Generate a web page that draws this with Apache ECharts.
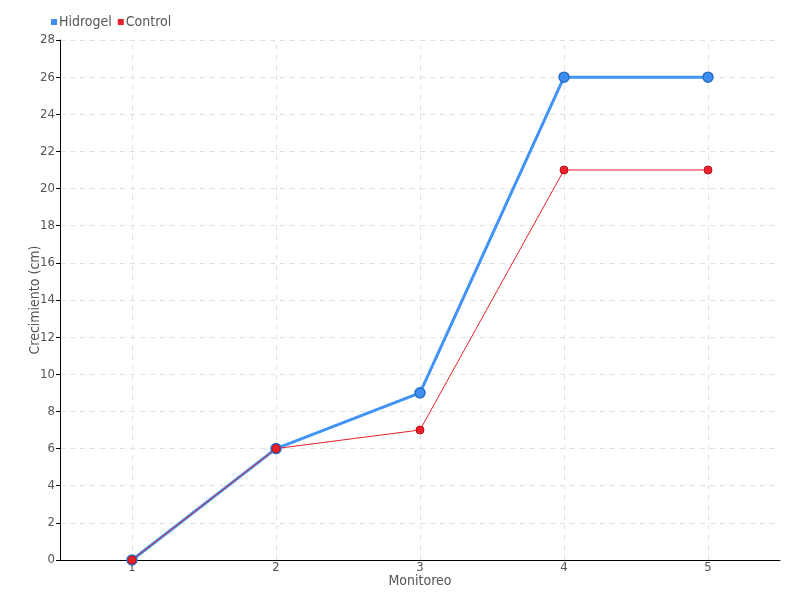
<!DOCTYPE html>
<html><head><meta charset="utf-8">
<script src="https://cdn.jsdelivr.net/npm/echarts@6/dist/echarts.min.js"></script>
<style>html,body{margin:0;padding:0;background:#fff}#c{width:800px;height:600px}</style>
</head><body><div id="c"></div>
<script>
const categories = ['1','2','3','4','5'];
const hidrogel = [0, 6, 9, 26, 26];
const control = [0, 6, 7, 21, 21];
const chart = echarts.init(document.getElementById('c'));
const font = 'Liberation Sans Narrow, DejaVu Sans Condensed, sans-serif';
const gridLine = {color: '#e0e0e0', type: [5, 5], width: 1};
chart.setOption({
  animation: false,
  textStyle: {fontFamily: font},
  legend: {
    left: 46, top: 10, itemWidth: 6, itemHeight: 6, itemGap: 6,
    icon: 'rect',
    itemStyle: {borderWidth: 0},
    textStyle: {color: '#555', fontSize: 14, fontFamily: font, padding: [0,0,0,-3]},
    data: ['Hidrogel', 'Control']
  },
  grid: {left: 60, right: 20, top: 40, bottom: 40},
  xAxis: {
    type: 'category', data: categories, boundaryGap: true,
    name: 'Monitoreo', nameLocation: 'middle', nameGap: 14, nameMoveOverlap: false,
    nameTextStyle: {color: '#555', fontSize: 14, fontFamily: font},
    axisLine: {lineStyle: {color: '#000'}},
    axisTick: {alignWithLabel: true, length: 5, lineStyle: {color: '#000'}},
    axisLabel: {color: '#555', fontSize: 13, margin: 1, fontFamily: font},
    splitLine: {show: false}
  },
  yAxis: {
    type: 'value', min: 0, max: 28, interval: 2,
    name: 'Crecimiento (cm)', nameLocation: 'middle', nameGap: 18, nameMoveOverlap: false,
    nameTextStyle: {color: '#555', fontSize: 14, fontFamily: font},
    axisLine: {show: true, lineStyle: {color: '#000'}},
    axisTick: {show: true, length: 4, lineStyle: {color: '#000'}},
    axisLabel: {color: '#555', fontSize: 13, margin: 5, fontFamily: font},
    splitLine: {show: true, lineStyle: gridLine}
  },
  series: [
    {
      name: 'Hidrogel', type: 'line', data: hidrogel,
      color: '#3d8ef0',
      lineStyle: {width: 3, color: '#4193f5'},
      symbol: 'circle', symbolSize: 10,
      itemStyle: {color: '#3d8ef0', borderColor: '#2a6fc7', borderWidth: 1.5},
      markLine: {
        silent: true, symbol: 'none', label: {show: false},
        lineStyle: gridLine,
        z: 0,
        data: categories.map(c => ({xAxis: c}))
      }
    },
    {
      name: 'Control', type: 'line', data: control,
      color: '#e8202a',
      lineStyle: {width: 1, color: '#e8202a'},
      symbol: 'circle', symbolSize: 8,
      itemStyle: {color: '#e8202a', borderColor: '#c01018', borderWidth: 1}
    }
  ]
});
</script></body></html>
